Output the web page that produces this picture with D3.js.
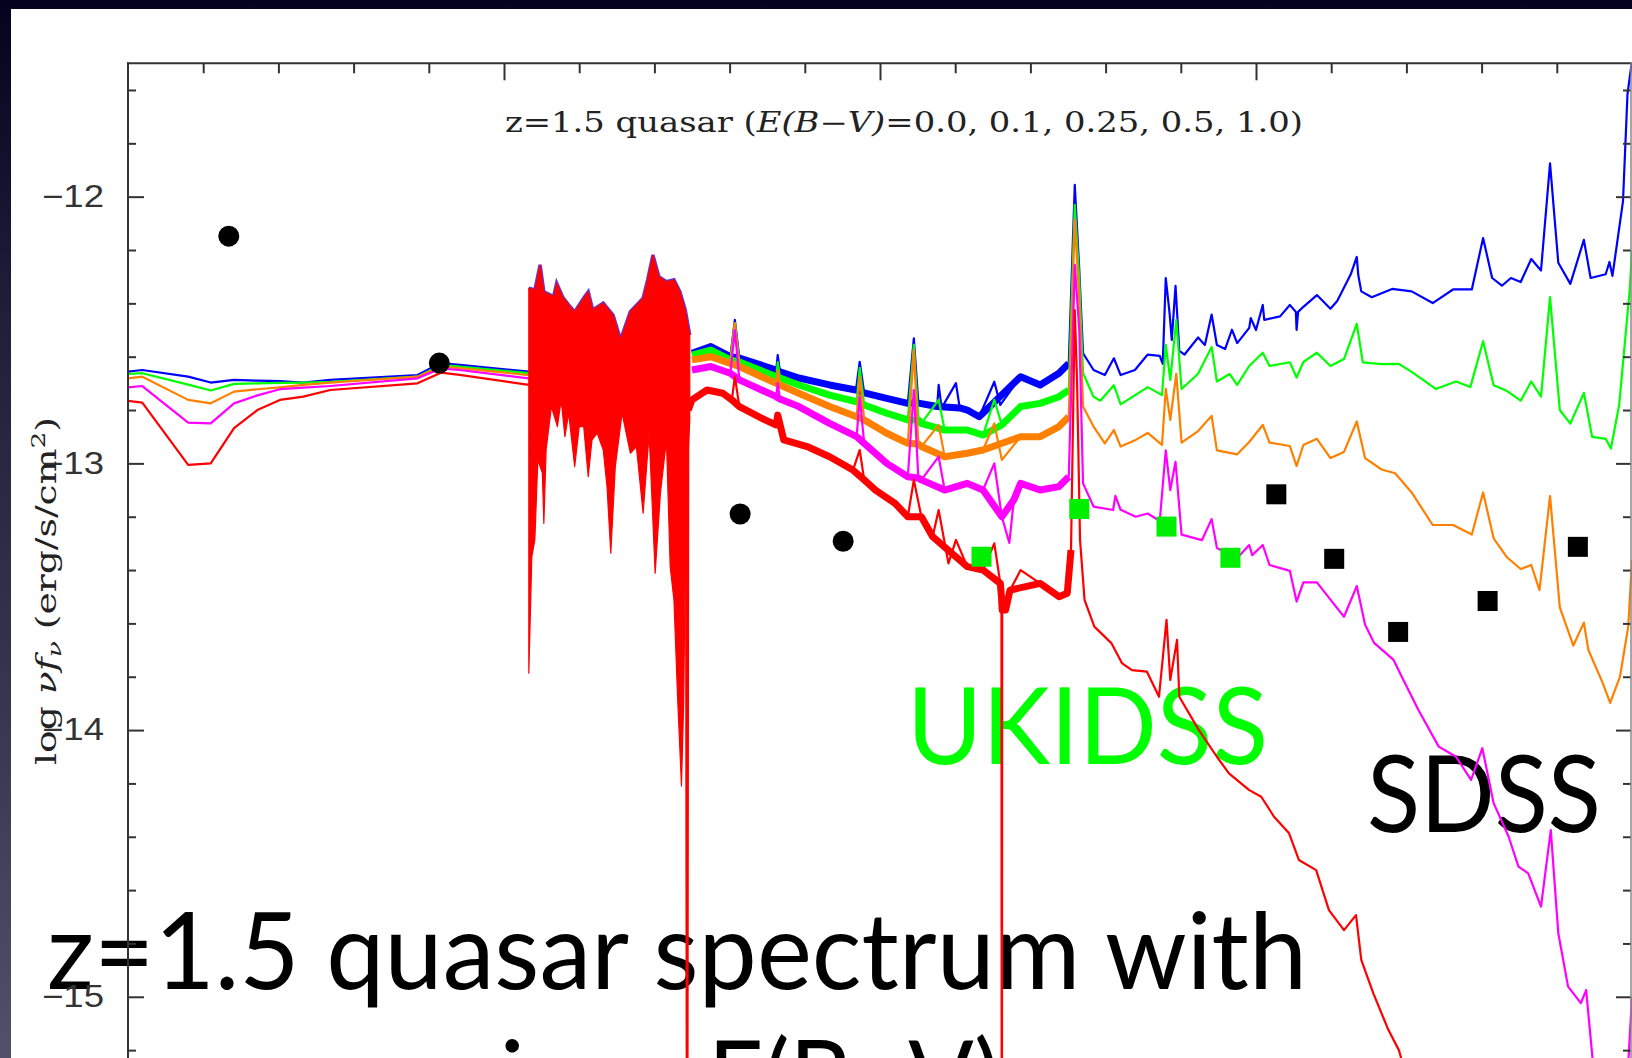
<!DOCTYPE html>
<html>
<head>
<meta charset="utf-8">
<script src="https://cdn.jsdelivr.net/npm/d3@7"></script>
<style>
  body { margin: 0; background: #000; }
  svg { display: block; }
</style>
</head>
<body>
<svg id="chart" width="1632" height="1058"></svg>
<script>
// x = log nu (Hz), y = log nu f_nu (erg/s/cm2)

// coarse model part on the left, same nu grid for all curves
const leftNu = [13.0, 13.019, 13.08, 13.11, 13.141, 13.172, 13.202, 13.233, 13.269, 13.385, 13.416, 13.441, 13.533]
const blueLeft = [-12.656, -12.650, -12.675, -12.697, -12.687, -12.690, -12.692, -12.697, -12.687, -12.669, -12.624, -12.631, -12.656]
const greenLeft = [-12.665, -12.662, -12.705, -12.727, -12.702, -12.700, -12.698, -12.697, -12.694, -12.675, -12.631, -12.637, -12.662]
const orangeLeft = [-12.681, -12.675, -12.762, -12.775, -12.731, -12.722, -12.715, -12.706, -12.697, -12.675, -12.637, -12.643, -12.669]
const magentaLeft = [-12.715, -12.710, -12.847, -12.850, -12.775, -12.745, -12.722, -12.716, -12.710, -12.681, -12.644, -12.650, -12.681]
const redLeft = [-12.766, -12.772, -13.006, -13.000, -12.868, -12.800, -12.762, -12.750, -12.725, -12.700, -12.660, -12.668, -12.706]

// noisy near-IR block (red on top), upper and lower envelope
const forestTop = [[13.533,-12.343],[13.541,-12.350],[13.548,-12.256],[13.553,-12.357],[13.566,-12.375],[13.570,-12.324],
  [13.578,-12.376],[13.586,-12.406],[13.594,-12.432],[13.606,-12.380],[13.612,-12.357],[13.618,-12.425],[13.632,-12.399],
  [13.645,-12.444],[13.655,-12.537],[13.668,-12.431],[13.685,-12.381],[13.691,-12.312],[13.698,-12.219],[13.706,-12.300],
  [13.716,-12.319],[13.726,-12.312],[13.734,-12.357],[13.741,-12.425],[13.747,-12.519]]
const forestBottom = [[13.533,-13.787],[13.537,-13.350],[13.541,-13.287],[13.545,-12.987],[13.551,-13.036],[13.553,-13.225],
  [13.556,-12.950],[13.563,-12.787],[13.571,-12.862],[13.576,-12.762],[13.581,-12.900],[13.586,-12.812],[13.594,-13.012],
  [13.600,-12.862],[13.606,-12.862],[13.612,-13.050],[13.617,-12.912],[13.624,-12.887],[13.632,-12.950],[13.637,-13.087],
  [13.642,-13.337],[13.648,-13.012],[13.657,-12.812],[13.668,-12.962],[13.676,-12.937],[13.685,-13.187],[13.693,-12.887],
  [13.701,-13.412],[13.708,-13.112],[13.716,-12.912],[13.721,-13.387],[13.726,-13.512],[13.731,-13.887],[13.736,-14.210],
  [13.739,-13.887],[13.742,-13.137],[13.747,-12.837]]

// optical/UV spectrum part (right of the noisy block)
const blueRight = [[13.750,-12.587],[13.775,-12.562],[13.801,-12.600],[13.807,-12.462],[13.813,-12.605],[13.862,-12.650],
  [13.864,-12.594],[13.867,-12.657],[13.892,-12.680],[13.933,-12.706],[13.968,-12.725],[13.973,-12.619],[13.979,-12.736],
  [14.009,-12.756],[14.037,-12.775],[14.045,-12.531],[14.051,-12.774],[14.076,-12.787],[14.078,-12.706],[14.082,-12.792],
  [14.101,-12.699],[14.106,-12.792],[14.116,-12.800],[14.132,-12.825],[14.152,-12.694],[14.160,-12.781],[14.187,-12.675],
  [14.213,-12.706],[14.238,-12.662],[14.251,-12.625],[14.259,-11.956],[14.265,-12.275],[14.270,-12.587],[14.284,-12.650],
  [14.299,-12.669],[14.311,-12.606],[14.320,-12.669],[14.339,-12.650],[14.356,-12.592],[14.372,-12.597],[14.376,-12.627],
  [14.380,-12.305],[14.385,-12.435],[14.388,-12.537],[14.393,-12.334],[14.398,-12.578],[14.405,-12.592],[14.423,-12.528],
  [14.432,-12.556],[14.441,-12.442],[14.448,-12.556],[14.459,-12.571],[14.468,-12.499],[14.475,-12.549],[14.491,-12.492],
  [14.493,-12.455],[14.500,-12.500],[14.509,-12.406],[14.511,-12.462],[14.532,-12.449],[14.545,-12.406],[14.553,-12.432],
  [14.554,-12.500],[14.556,-12.432],[14.563,-12.413],[14.581,-12.369],[14.599,-12.420],[14.608,-12.391],[14.626,-12.291],
  [14.634,-12.226],[14.636,-12.294],[14.640,-12.355],[14.654,-12.377],[14.681,-12.346],[14.707,-12.355],[14.735,-12.399],
  [14.762,-12.348],[14.787,-12.348],[14.802,-12.155],[14.814,-12.305],[14.827,-12.334],[14.839,-12.305],[14.852,-12.320],
  [14.866,-12.234],[14.879,-12.277],[14.891,-11.875],[14.902,-12.248],[14.918,-12.327],[14.936,-12.162],[14.945,-12.305],
  [14.965,-12.291],[14.970,-12.245],[14.974,-12.297],[14.988,-12.018],[14.994,-11.616],[15.000,-11.490]]
const greenRight = [[13.750,-12.594],[13.775,-12.575],[13.801,-12.612],[13.807,-12.474],[13.813,-12.620],[13.862,-12.675],
  [13.864,-12.620],[13.867,-12.680],[13.892,-12.706],[13.933,-12.744],[13.969,-12.769],[13.973,-12.642],[13.979,-12.781],
  [14.009,-12.812],[14.037,-12.837],[14.045,-12.556],[14.051,-12.837],[14.055,-12.850],[14.078,-12.762],[14.086,-12.875],
  [14.116,-12.875],[14.137,-12.894],[14.152,-12.762],[14.162,-12.856],[14.187,-12.787],[14.213,-12.775],[14.238,-12.750],
  [14.251,-12.725],[14.259,-12.031],[14.265,-12.312],[14.270,-12.662],[14.284,-12.750],[14.293,-12.765],[14.311,-12.707],
  [14.320,-12.779],[14.356,-12.714],[14.375,-12.744],[14.380,-12.556],[14.386,-12.687],[14.394,-12.462],[14.401,-12.721],
  [14.423,-12.664],[14.441,-12.564],[14.448,-12.693],[14.465,-12.665],[14.475,-12.706],[14.491,-12.635],[14.509,-12.585],
  [14.518,-12.635],[14.545,-12.621],[14.554,-12.678],[14.563,-12.620],[14.581,-12.585],[14.599,-12.635],[14.617,-12.609],
  [14.634,-12.477],[14.642,-12.621],[14.667,-12.628],[14.690,-12.627],[14.707,-12.657],[14.739,-12.721],[14.766,-12.693],
  [14.785,-12.714],[14.802,-12.542],[14.816,-12.707],[14.834,-12.729],[14.852,-12.765],[14.866,-12.693],[14.879,-12.750],
  [14.891,-12.377],[14.904,-12.800],[14.918,-12.851],[14.936,-12.736],[14.947,-12.901],[14.965,-12.908],[14.972,-12.944],
  [14.983,-12.779],[14.997,-12.348],[15.000,-12.200]]
const orangeRight = [[13.750,-12.612],[13.775,-12.600],[13.801,-12.625],[13.807,-12.474],[13.813,-12.637],[13.862,-12.700],
  [13.864,-12.650],[13.867,-12.706],[13.892,-12.737],[13.933,-12.787],[13.969,-12.825],[13.973,-12.676],[13.979,-12.837],
  [14.009,-12.887],[14.037,-12.925],[14.045,-12.575],[14.051,-12.927],[14.055,-12.937],[14.078,-12.856],[14.086,-12.975],
  [14.116,-12.962],[14.137,-12.950],[14.152,-12.850],[14.162,-12.987],[14.187,-12.900],[14.213,-12.900],[14.238,-12.862],
  [14.251,-12.825],[14.259,-12.087],[14.265,-12.387],[14.270,-12.787],[14.284,-12.862],[14.299,-12.925],[14.311,-12.875],
  [14.320,-12.937],[14.340,-12.912],[14.356,-12.886],[14.375,-12.931],[14.380,-12.721],[14.386,-12.837],[14.394,-12.664],
  [14.401,-12.922],[14.423,-12.879],[14.441,-12.822],[14.448,-12.951],[14.475,-12.966],[14.491,-12.920],[14.509,-12.856],
  [14.518,-12.922],[14.545,-12.935],[14.554,-13.010],[14.563,-12.931],[14.581,-12.908],[14.599,-12.980],[14.617,-12.957],
  [14.634,-12.843],[14.645,-12.980],[14.667,-13.023],[14.685,-13.037],[14.707,-13.109],[14.735,-13.231],[14.762,-13.231],
  [14.787,-13.267],[14.802,-13.109],[14.816,-13.281],[14.834,-13.353],[14.852,-13.396],[14.866,-13.381],[14.877,-13.475],
  [14.891,-13.123],[14.904,-13.540],[14.922,-13.683],[14.936,-13.597],[14.942,-13.700],[14.961,-13.823],[14.971,-13.898],
  [14.984,-13.800],[14.995,-13.612],[15.000,-13.362]]
const magentaRight = [[13.750,-12.650],[13.775,-12.637],[13.801,-12.662],[13.807,-12.500],[13.813,-12.687],[13.862,-12.750],
  [13.864,-12.699],[13.867,-12.759],[13.892,-12.787],[13.933,-12.850],[13.969,-12.900],[13.973,-12.750],[13.979,-12.925],
  [14.009,-13.000],[14.037,-13.050],[14.045,-12.725],[14.051,-13.055],[14.055,-13.062],[14.078,-12.975],[14.086,-13.100],
  [14.116,-13.075],[14.137,-13.100],[14.152,-13.000],[14.162,-13.200],[14.172,-13.298],[14.178,-13.137],[14.187,-13.075],
  [14.213,-13.100],[14.238,-13.087],[14.251,-13.050],[14.259,-12.256],[14.265,-12.500],[14.270,-13.075],[14.284,-13.162],
  [14.310,-13.175],[14.313,-13.122],[14.320,-13.174],[14.340,-13.200],[14.356,-13.188],[14.372,-13.216],[14.380,-12.951],
  [14.386,-13.100],[14.393,-12.994],[14.401,-13.267],[14.428,-13.288],[14.441,-13.209],[14.448,-13.317],[14.475,-13.355],
  [14.491,-13.306],[14.495,-13.344],[14.509,-13.306],[14.518,-13.381],[14.545,-13.403],[14.554,-13.518],[14.563,-13.446],
  [14.581,-13.446],[14.599,-13.511],[14.617,-13.575],[14.634,-13.460],[14.645,-13.604],[14.657,-13.673],[14.683,-13.737],
  [14.696,-13.812],[14.716,-13.925],[14.743,-14.062],[14.766,-14.100],[14.786,-14.187],[14.801,-14.068],[14.816,-14.274],
  [14.836,-14.400],[14.849,-14.512],[14.862,-14.537],[14.879,-14.662],[14.892,-14.375],[14.902,-14.762],[14.915,-14.962],
  [14.932,-15.024],[14.939,-14.975],[14.949,-15.275],[14.957,-15.400],[14.975,-15.700],[14.990,-15.600],[14.994,-15.300],
  [15.000,-15.000]]
const redRight = [[13.742,-12.850],[13.7435,-16.5],[13.745,-12.800],[13.750,-12.762],[13.770,-12.725],[13.791,-12.737],
  [13.803,-12.762],[13.807,-12.675],[13.813,-12.787],[13.847,-12.837],[13.862,-12.856],[13.864,-12.819],[13.872,-12.912],
  [13.903,-12.937],[13.933,-12.975],[13.964,-13.025],[13.973,-12.950],[13.979,-13.062],[13.994,-13.100],[14.020,-13.150],
  [14.037,-13.200],[14.045,-13.062],[14.055,-13.200],[14.070,-13.275],[14.078,-13.175],[14.091,-13.375],[14.101,-13.287],
  [14.116,-13.387],[14.137,-13.400],[14.152,-13.300],[14.160,-13.450],[14.1615,-13.500],[14.162,-16.5],[14.1625,-13.550],
  [14.167,-13.550],[14.173,-13.475],[14.187,-13.400],[14.213,-13.450],[14.238,-13.500],[14.249,-13.487],[14.254,-13.325],
  [14.259,-12.425],[14.262,-12.687],[14.266,-13.287],[14.272,-13.512],[14.285,-13.612],[14.308,-13.675],[14.322,-13.750],
  [14.335,-13.775],[14.355,-13.781],[14.371,-13.875],[14.381,-13.587],[14.386,-13.812],[14.395,-13.662],[14.398,-13.875],
  [14.424,-14.000],[14.448,-14.100],[14.464,-14.162],[14.491,-14.225],[14.507,-14.250],[14.524,-14.325],[14.544,-14.387],
  [14.557,-14.487],[14.580,-14.525],[14.597,-14.675],[14.617,-14.750],[14.633,-14.694],[14.640,-14.862],[14.656,-14.987],
  [14.676,-15.124],[14.690,-15.200],[14.705,-15.350],[14.731,-15.575],[14.800,-16.000]]

// photometry
const wiseNu = [13.134, 13.414, 13.814, 13.951]
const wiseFlux = [-12.148, -12.624, -13.190, -13.292]
const ukidssNu = [14.135, 14.265, 14.381, 14.466]
const ukidssFlux = [-13.350, -13.171, -13.237, -13.354]
const sdssNu = [14.527, 14.604, 14.689, 14.808, 14.928]
const sdssFlux = [-13.116, -13.358, -13.632, -13.516, -13.313]

const ebvColors = ['#0000ff', '#00ff00', '#ff8000', '#ff00ff', '#ff0000']
const yTickValues = [-12, -13, -14, -15]
const yTickLabels = ['\u221212', '\u221213', '\u221214', '\u221215']
const xMajorTicks = [13.5, 14.0, 14.5]

const W = 1632, H = 1058
const svg = d3.select('#chart')

const x = d3.scaleLinear().domain([13, 15]).range([128, 1632])
const y = d3.scaleLinear().domain([-11.5, -16]).range([63.3, 1263.5])

// slide background
const defs = svg.append('defs')
const grad = defs.append('linearGradient').attr('id', 'edge')
  .attr('x1', 0).attr('y1', 0).attr('x2', 0).attr('y2', 1)
grad.append('stop').attr('offset', '0%').attr('stop-color', '#04031f')
grad.append('stop').attr('offset', '30%').attr('stop-color', '#1f1f3b')
grad.append('stop').attr('offset', '65%').attr('stop-color', '#35354f')
grad.append('stop').attr('offset', '100%').attr('stop-color', '#524f69')
svg.append('rect').attr('width', W).attr('height', H).attr('fill', 'url(#edge)')
svg.append('rect').attr('x', 11).attr('y', 9).attr('width', W - 11).attr('height', H - 9).attr('fill', '#fff')

// slide texts (the plot is pasted over them)
const slideText = svg.append('g').attr('font-family', 'Lato').attr('font-size', 106)
slideText.append('text').attr('x', 47).attr('y', 989)
  .attr('textLength', 1260).attr('lengthAdjust', 'spacingAndGlyphs')
  .text('z=1.5 quasar spectrum with')
slideText.append('text').attr('x', 300).attr('y', 1117).text('varying')
slideText.append('text').attr('x', 708).attr('y', 1117)
  .attr('textLength', 292).attr('lengthAdjust', 'spacingAndGlyphs')
  .text('E(B\u2212V)')
slideText.append('text').attr('x', 907).attr('y', 764).attr('fill', '#00ff00')
  .attr('textLength', 361).attr('lengthAdjust', 'spacingAndGlyphs')
  .text('UKIDSS')
slideText.append('text').attr('x', 1367).attr('y', 832)
  .attr('textLength', 234).attr('lengthAdjust', 'spacingAndGlyphs')
  .text('SDSS')

// plot
const plot = svg.append('g')
defs.append('clipPath').attr('id', 'plotclip')
  .append('rect').attr('x', 128).attr('y', 63.3).attr('width', W - 128).attr('height', H - 63.3)
const lines = plot.append('g').attr('clip-path', 'url(#plotclip)')

const line = d3.line()
  .defined(d => d !== null)
  .x(d => x(d[0]))
  .y(d => y(d[1]))

const toPairs = vals => leftNu.map((n, i) => [n, vals[i]])
const curves = [
  toPairs(blueLeft).concat([null], blueRight),
  toPairs(greenLeft).concat([null], greenRight),
  toPairs(orangeLeft).concat([null], orangeRight),
  toPairs(magentaLeft).concat([null], magentaRight),
  toPairs(redLeft).concat([null], redRight)
]

// continuum of the noisy stretch: drop narrow spikes so only the band is thick
const bandPoints = pts => {
  const seg = pts.filter(d => d && d[0] >= 13.745 && d[0] <= 14.256 && d[1] > -15)
  return seg.filter((d, i) => {
    const a = seg[i - 1], b = seg[i + 1]
    if (!a || !b) return true
    const up = d[1] - Math.max(a[1], b[1])
    const down = Math.min(a[1], b[1]) - d[1]
    return up < 0.04 && down < 0.08
  })
}

curves.forEach((pts, i) => {
  if (i === 4) {
    // top fringe of the other curves, then the red noisy block
    lines.append('path')
      .attr('d', line(forestTop))
      .attr('fill', 'none').attr('stroke', '#5a3ae0').attr('stroke-width', 3.5)
    lines.append('path')
      .attr('d', line(forestTop.concat(forestBottom.slice().reverse())) + 'Z')
      .attr('fill', ebvColors[4]).attr('stroke', ebvColors[4]).attr('stroke-width', 1.2)
      .attr('stroke-linejoin', 'round')
  }
  lines.append('path')
    .attr('d', line(bandPoints(pts)))
    .attr('fill', 'none')
    .attr('stroke', ebvColors[i])
    .attr('stroke-width', 7)
    .attr('stroke-linejoin', 'round')
  lines.append('path')
    .attr('d', line(pts))
    .attr('fill', 'none')
    .attr('stroke', ebvColors[i])
    .attr('stroke-width', 2.2)
    .attr('stroke-linejoin', 'round')
})

// photometric points
plot.selectAll('.wise')
  .data(wiseNu.map((n, i) => [n, wiseFlux[i]]))
  .join('circle')
  .attr('cx', d => x(d[0])).attr('cy', d => y(d[1])).attr('r', 10.5)
  .attr('fill', '#000')
plot.selectAll('.ukidss')
  .data(ukidssNu.map((n, i) => [n, ukidssFlux[i]]))
  .join('rect')
  .attr('x', d => x(d[0]) - 10).attr('y', d => y(d[1]) - 10)
  .attr('width', 20).attr('height', 20)
  .attr('fill', '#00ee00')
plot.selectAll('.sdss')
  .data(sdssNu.map((n, i) => [n, sdssFlux[i]]))
  .join('rect')
  .attr('x', d => x(d[0]) - 10).attr('y', d => y(d[1]) - 10)
  .attr('width', 20).attr('height', 20)
  .attr('fill', '#000')

// axes: ticks point inwards
const xMinor = d3.range(13.1, 14.95, 0.1).filter(v => !xMajorTicks.some(m => Math.abs(m - v) < 1e-6))
const yMinor = d3.range(-11.6, -16, -0.2).filter(v => !yTickValues.some(m => Math.abs(m - v) < 1e-6))

const styleAxis = g => {
  g.select('.domain').remove()
  g.selectAll('line').attr('stroke', '#333').attr('stroke-width', 2)
}

plot.append('g').attr('transform', 'translate(0,63.3)')
  .call(d3.axisTop(x).tickValues(xMinor).tickSize(-10).tickFormat(''))
  .call(styleAxis)
plot.append('g').attr('transform', 'translate(0,63.3)')
  .call(d3.axisTop(x).tickValues(xMajorTicks).tickSize(-17).tickFormat(''))
  .call(styleAxis)

plot.append('g').attr('transform', 'translate(128,0)')
  .call(d3.axisLeft(y).tickValues(yMinor).tickSize(-8).tickFormat(''))
  .call(styleAxis)
const yAxis = plot.append('g').attr('transform', 'translate(128,0)')
  .call(d3.axisLeft(y).tickValues(yTickValues).tickSize(-16).tickPadding(24)
    .tickFormat((d, i) => yTickLabels[i]))
  .call(styleAxis)
yAxis.selectAll('text')
  .attr('font-family', 'Liberation Sans')
  .attr('font-size', 31)
  .attr('fill', '#333')
  .attr('textLength', 62)
  .attr('lengthAdjust', 'spacingAndGlyphs')

plot.append('g').attr('transform', 'translate(1631,0)')
  .call(d3.axisRight(y).tickValues(yMinor).tickSize(-8).tickFormat(''))
  .call(styleAxis)
plot.append('g').attr('transform', 'translate(1631,0)')
  .call(d3.axisRight(y).tickValues(yTickValues).tickSize(-15).tickFormat(''))
  .call(styleAxis)

// frame
plot.append('line').attr('x1', 127).attr('x2', W).attr('y1', 63.3).attr('y2', 63.3)
  .attr('stroke', '#333').attr('stroke-width', 2)
plot.append('line').attr('x1', 128).attr('x2', 128).attr('y1', 62.3).attr('y2', H)
  .attr('stroke', '#333').attr('stroke-width', 2)
plot.append('line').attr('x1', 1631).attr('x2', 1631).attr('y1', 62.3).attr('y2', H)
  .attr('stroke', '#888').attr('stroke-width', 1.5)

// plot title
const title = plot.append('text')
  .attr('x', 505).attr('y', 132)
  .attr('font-family', 'DejaVu Serif').attr('font-size', 27).attr('fill', '#222')
  .attr('textLength', 798).attr('lengthAdjust', 'spacingAndGlyphs')
title.append('tspan').text('z=1.5 quasar (')
title.append('tspan').attr('font-style', 'italic').text('E(B\u2212V)')
title.append('tspan').text('=0.0, 0.1, 0.25, 0.5, 1.0)')

// y axis title
const ylab = plot.append('text')
  .attr('transform', 'translate(56,765) rotate(-90)')
  .attr('font-family', 'DejaVu Serif').attr('font-size', 27).attr('fill', '#222')
  .attr('textLength', 348).attr('lengthAdjust', 'spacingAndGlyphs')
ylab.append('tspan').text('log ')
ylab.append('tspan').attr('font-style', 'italic').text('\u03bdf')
ylab.append('tspan').attr('font-style', 'italic').attr('font-size', 19).attr('dy', 5).text('\u03bd')
ylab.append('tspan').attr('dy', -5).text(' (erg/s/cm')
ylab.append('tspan').attr('font-size', 19).attr('dy', -11).text('2')
ylab.append('tspan').attr('dy', 11).text(')')
</script>
</body>
</html>
